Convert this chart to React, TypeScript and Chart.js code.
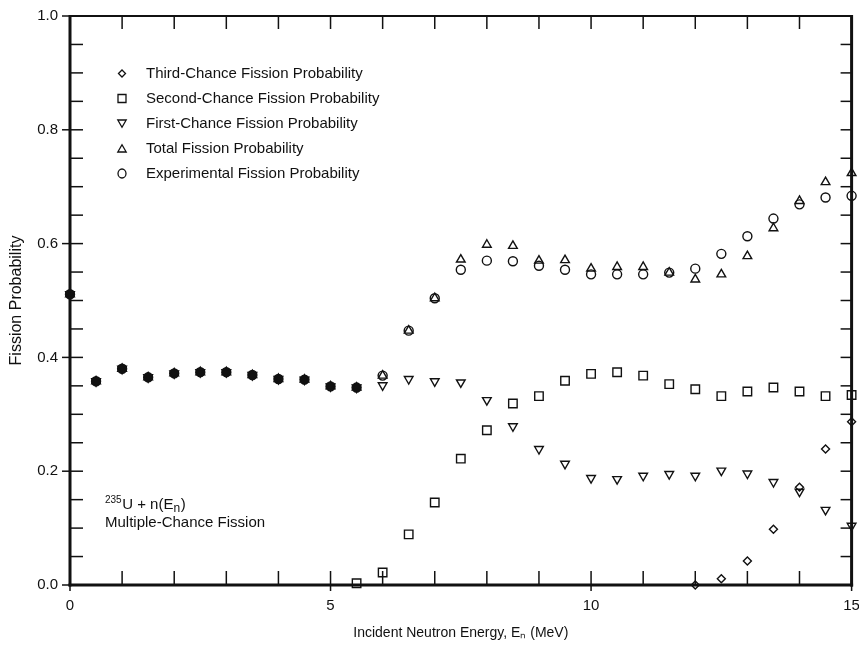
import React, { useEffect, useRef } from 'react';
import { Chart, registerables } from 'chart.js';

Chart.register(...registerables);

// ---- data ----
const energies = [0, 0.5, 1, 1.5, 2, 2.5, 3, 3.5, 4, 4.5, 5, 5.5, 6, 6.5, 7, 7.5, 8, 8.5, 9, 9.5, 10, 10.5, 11, 11.5, 12, 12.5, 13, 13.5, 14, 14.5, 15];
const firstChance = [0.511, 0.358, 0.38, 0.365, 0.372, 0.374, 0.374, 0.369, 0.362, 0.361, 0.349, 0.347, 0.351, 0.362, 0.358, 0.356, 0.325, 0.279, 0.239, 0.213, 0.188, 0.186, 0.192, 0.195, 0.192, 0.201, 0.196, 0.181, 0.164, 0.132, 0.104];
const totalFission = [0.511, 0.358, 0.38, 0.365, 0.372, 0.374, 0.374, 0.369, 0.362, 0.361, 0.349, 0.347, 0.368, 0.447, 0.504, 0.572, 0.598, 0.596, 0.57, 0.571, 0.556, 0.559, 0.559, 0.549, 0.537, 0.546, 0.578, 0.627, 0.675, 0.708, 0.724];
const experimental = [0.511, 0.358, 0.38, 0.365, 0.372, 0.374, 0.374, 0.369, 0.362, 0.361, 0.349, 0.347, 0.368, 0.447, 0.504, 0.554, 0.57, 0.569, 0.561, 0.554, 0.546, 0.546, 0.546, 0.549, 0.556, 0.582, 0.613, 0.644, 0.669, 0.681, 0.684];
const secondEnergies = [5.5, 6, 6.5, 7, 7.5, 8, 8.5, 9, 9.5, 10, 10.5, 11, 11.5, 12, 12.5, 13, 13.5, 14, 14.5, 15];
const secondChance = [0.003, 0.022, 0.089, 0.145, 0.222, 0.272, 0.319, 0.332, 0.359, 0.371, 0.374, 0.368, 0.353, 0.344, 0.332, 0.34, 0.347, 0.34, 0.332, 0.334];
const thirdEnergies = [12, 12.5, 13, 13.5, 14, 14.5, 15];
const thirdChance = [0.0, 0.011, 0.042, 0.098, 0.172, 0.239, 0.287];

const legendLabels = [
  'Third-Chance Fission Probability',
  'Second-Chance Fission Probability',
  'First-Chance Fission Probability',
  'Total Fission Probability',
  'Experimental Fission Probability',
];
const annotationLine1 = ['235', 'U + n(E', 'n', ')'];
const annotationLine2 = 'Multiple-Chance Fission';
const xTitle = 'Incident Neutron Energy, E\u2099 (MeV)';
const yTitle = 'Fission Probability';

const INK = '#111';
const FONT = "'Liberation Sans', Arial, Helvetica, sans-serif";

const pts = (xs: number[], ys: number[]) => xs.map((x, i) => ({ x, y: ys[i] }));
const lowFill = energies.map((e) => (e < 6 ? INK : 'rgba(0,0,0,0)'));

function drawSymbol(ctx: CanvasRenderingContext2D, kind: string, x: number, y: number) {
  ctx.beginPath();
  if (kind === 'diamond') {
    const r = 3.5;
    ctx.moveTo(x - r, y); ctx.lineTo(x, y - r); ctx.lineTo(x + r, y); ctx.lineTo(x, y + r); ctx.closePath();
  } else if (kind === 'square') {
    ctx.rect(x - 4, y - 4, 8, 8);
  } else if (kind === 'down') {
    ctx.moveTo(x - 4.2, y - 3.5); ctx.lineTo(x + 4.2, y - 3.5); ctx.lineTo(x, y + 3.8); ctx.closePath();
  } else if (kind === 'up') {
    ctx.moveTo(x - 4.2, y + 3.5); ctx.lineTo(x + 4.2, y + 3.5); ctx.lineTo(x, y - 3.8); ctx.closePath();
  } else {
    ctx.ellipse(x, y, 4, 4.5, 0, 0, Math.PI * 2);
  }
  ctx.stroke();
}

const framePlugin = {
  id: 'frame',
  beforeDatasetsDraw(chart: any) {
    const { ctx, chartArea: a, scales } = chart;
    const xs = scales.x;
    const ys = scales.y;
    const line = (x1: number, y1: number, x2: number, y2: number) => {
      ctx.beginPath(); ctx.moveTo(x1, y1); ctx.lineTo(x2, y2); ctx.stroke();
    };
    ctx.save();
    ctx.strokeStyle = INK;
    ctx.lineWidth = 1.5;
    for (let e = 0; e <= 15; e++) {
      const px = xs.getPixelForValue(e);
      const major = e % 5 === 0;
      line(px, a.bottom + (major ? 6 : 0), px, a.bottom - 14);
      line(px, a.top, px, a.top + 13);
    }
    for (let i = 0; i <= 20; i++) {
      const py = ys.getPixelForValue(i * 0.05);
      const major = i % 4 === 0;
      line(a.left - (major ? 8 : 0), py, a.left + 13, py);
      line(a.right - 11, py, a.right, py);
    }
    ctx.lineWidth = 3;
    line(a.left, a.top - 1, a.left, a.bottom + 1.5);
    line(a.left - 1.5, a.bottom, a.right + 1.5, a.bottom);
    line(a.right, a.top - 1, a.right, a.bottom + 1.5);
    ctx.lineWidth = 2;
    line(a.left, a.top, a.right, a.top);
    ctx.restore();
  },
};

const textPlugin = {
  id: 'texts',
  afterDraw(chart: any) {
    const { ctx } = chart;
    ctx.save();
    ctx.fillStyle = INK;
    ctx.strokeStyle = INK;
    ctx.lineWidth = 1.3;
    // legend
    const kinds = ['diamond', 'square', 'down', 'up', 'circle'];
    ctx.font = `15px ${FONT}`;
    ctx.textBaseline = 'middle';
    ctx.textAlign = 'left';
    legendLabels.forEach((label, i) => {
      const y = 73.5 + i * 25;
      drawSymbol(ctx, kinds[i], 122, y);
      ctx.fillText(label, 146, y + 0.5);
    });
    // annotation
    ctx.textBaseline = 'alphabetic';
    let x = 105;
    const base = 509;
    ctx.font = `10px ${FONT}`;
    ctx.fillText(annotationLine1[0], x, base - 6);
    x += ctx.measureText(annotationLine1[0]).width + 0.5;
    ctx.font = `15px ${FONT}`;
    ctx.fillText(annotationLine1[1], x, base);
    x += ctx.measureText(annotationLine1[1]).width;
    ctx.font = `12px ${FONT}`;
    ctx.fillText(annotationLine1[2], x, base + 3);
    x += ctx.measureText(annotationLine1[2]).width + 0.5;
    ctx.font = `15px ${FONT}`;
    ctx.fillText(annotationLine1[3], x, base);
    ctx.fillText(annotationLine2, 105, 527);
    ctx.restore();
  },
};

export default function App() {
  const ref = useRef<HTMLCanvasElement | null>(null);
  useEffect(() => {
    document.body.style.margin = '0';
    const canvas = ref.current;
    if (!canvas) return;
    Chart.defaults.font.family = FONT;
    Chart.defaults.color = INK;
    const common = {
      showLine: false,
      pointBorderColor: INK,
      pointBorderWidth: 1.4,
      pointHoverRadius: 5,
      clip: false as any,
    };
    const chart = new Chart(canvas, {
      type: 'scatter',
      data: {
        datasets: [
          { ...common, label: legendLabels[0], data: pts(thirdEnergies, thirdChance), pointStyle: 'rectRot', pointRadius: 4, pointBackgroundColor: 'rgba(0,0,0,0)' },
          { ...common, label: legendLabels[1], data: pts(secondEnergies, secondChance), pointStyle: 'rect', pointRadius: 6, pointBackgroundColor: 'rgba(0,0,0,0)' },
          { ...common, label: legendLabels[2], data: pts(energies, firstChance), pointStyle: 'triangle', pointRotation: 180, pointRadius: 5, pointBackgroundColor: lowFill },
          { ...common, label: legendLabels[3], data: pts(energies, totalFission), pointStyle: 'triangle', pointRadius: 5, pointBackgroundColor: lowFill },
          { ...common, label: legendLabels[4], data: pts(energies, experimental), pointStyle: 'circle', pointRadius: 4.5, pointBackgroundColor: lowFill },
        ],
      },
      options: {
        responsive: false,
        animation: false,
        devicePixelRatio: 1,
        layout: { padding: { top: 16, right: 6, left: 0, bottom: 0 } },
        plugins: { legend: { display: false }, tooltip: { enabled: false } },
        scales: {
          x: {
            type: 'linear',
            min: 0,
            max: 15,
            grid: { display: false, drawTicks: false },
            border: { display: false },
            ticks: { stepSize: 5, padding: 12, font: { size: 15 }, color: INK },
            title: { display: true, text: xTitle, font: { size: 14 }, color: INK, padding: { top: 4, bottom: 5 } },
            afterFit: (s: any) => { s.height = 62; s.paddingLeft = 0; s.paddingRight = 0; },
          },
          y: {
            type: 'linear',
            min: 0,
            max: 1,
            grid: { display: false, drawTicks: false },
            border: { display: false },
            ticks: { stepSize: 0.2, padding: 12, font: { size: 15 }, color: INK, callback: (v: any) => Number(v).toFixed(1) },
            title: { display: true, text: yTitle, font: { size: 16 }, color: INK, padding: { top: 7, bottom: 0 } },
            afterFit: (s: any) => { s.width = 70; s.paddingTop = 0; s.paddingBottom = 0; },
          },
        },
      },
      plugins: [framePlugin, textPlugin],
    });
    return () => chart.destroy();
  }, []);
  return <canvas ref={ref} width={859} height={647} style={{ display: 'block' }} />;
}
